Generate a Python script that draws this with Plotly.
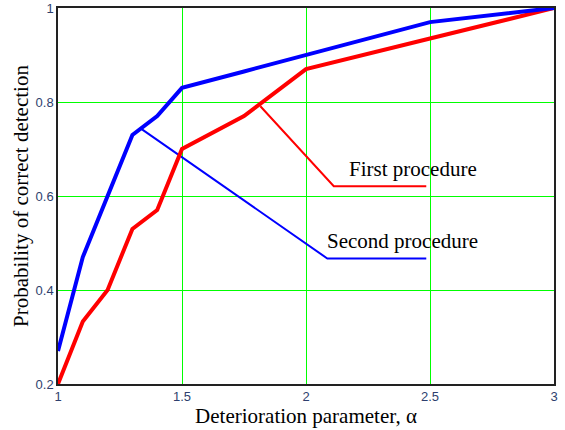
import plotly.graph_objects as go

alpha = [1.0, 1.1, 1.2, 1.3, 1.4, 1.5, 1.75, 2.0, 2.5, 3.0]
first_proc = [0.20, 0.333, 0.40, 0.53, 0.57, 0.70, 0.77, 0.87, 0.935, 1.0]
second_proc = [0.27, 0.47, 0.60, 0.73, 0.77, 0.83, 0.865, 0.90, 0.97, 1.0]

# leader lines for labels (data coordinates)
first_leader_x = [1.816, 2.112, 2.485]
first_leader_y = [0.791, 0.621, 0.621]
second_leader_x = [1.333, 2.086, 2.485]
second_leader_y = [0.744, 0.467, 0.467]

x_ticks = [1, 1.5, 2, 2.5, 3]
x_tick_text = ["1", "1.5", "2", "2.5", "3"]
y_ticks = [0.2, 0.4, 0.6, 0.8, 1.0]
y_tick_text = ["0.2", "0.4", "0.6", "0.8", "1"]

RED = "#ff0000"
BLUE = "#0000ff"
GRID = "#00ff00"
SERIF = "Liberation Serif, Times New Roman, serif"
TICKFONT = dict(family="Liberation Sans, Arial, sans-serif", size=13, color="#2e3f6e")

fig = go.Figure()
fig.add_trace(go.Scatter(x=first_leader_x, y=first_leader_y, mode="lines",
                         line=dict(color=RED, width=2), showlegend=False, hoverinfo="skip"))
fig.add_trace(go.Scatter(x=second_leader_x, y=second_leader_y, mode="lines",
                         line=dict(color=BLUE, width=2), showlegend=False, hoverinfo="skip"))
fig.add_trace(go.Scatter(x=alpha, y=first_proc, mode="lines", name="First procedure",
                         line=dict(color=RED, width=4), showlegend=False))
fig.add_trace(go.Scatter(x=alpha, y=second_proc, mode="lines", name="Second procedure",
                         line=dict(color=BLUE, width=4), showlegend=False))

fig.add_annotation(x=2.431, y=0.658, text="First procedure", showarrow=False,
                   font=dict(family=SERIF, size=21, color="black"))
fig.add_annotation(x=2.389, y=0.504, text="Second procedure", showarrow=False,
                   font=dict(family=SERIF, size=21, color="black"))

fig.update_layout(
    width=565, height=430,
    margin=dict(l=58, r=11, t=8, b=46, autoexpand=False),
    paper_bgcolor="white", plot_bgcolor="white",
    showlegend=False,
)
fig.update_xaxes(range=[1, 3], tickvals=x_ticks, ticktext=x_tick_text,
                 showgrid=True, gridcolor=GRID, gridwidth=1, zeroline=False,
                 showline=True, linecolor="#222222", linewidth=1.5, mirror=True,
                 ticks="", tickfont=TICKFONT, automargin=False, ticklabeloverflow="allow",
                 title=dict(text="Deterioration parameter, α",
                            font=dict(family=SERIF, size=21, color="black"), standoff=1))
fig.update_yaxes(range=[0.2, 1], tickvals=y_ticks, ticktext=y_tick_text,
                 showgrid=True, gridcolor=GRID, gridwidth=1, zeroline=False,
                 showline=True, linecolor="#222222", linewidth=1.5, mirror=True,
                 ticks="", tickfont=TICKFONT, automargin=False, ticklabeloverflow="allow",
                 title=dict(text="Probability of correct detection",
                            font=dict(family=SERIF, size=21, color="black"), standoff=1))

fig.write_html("out.html", config={"displayModeBar": False},
               post_script="document.body.style.margin='0';")
